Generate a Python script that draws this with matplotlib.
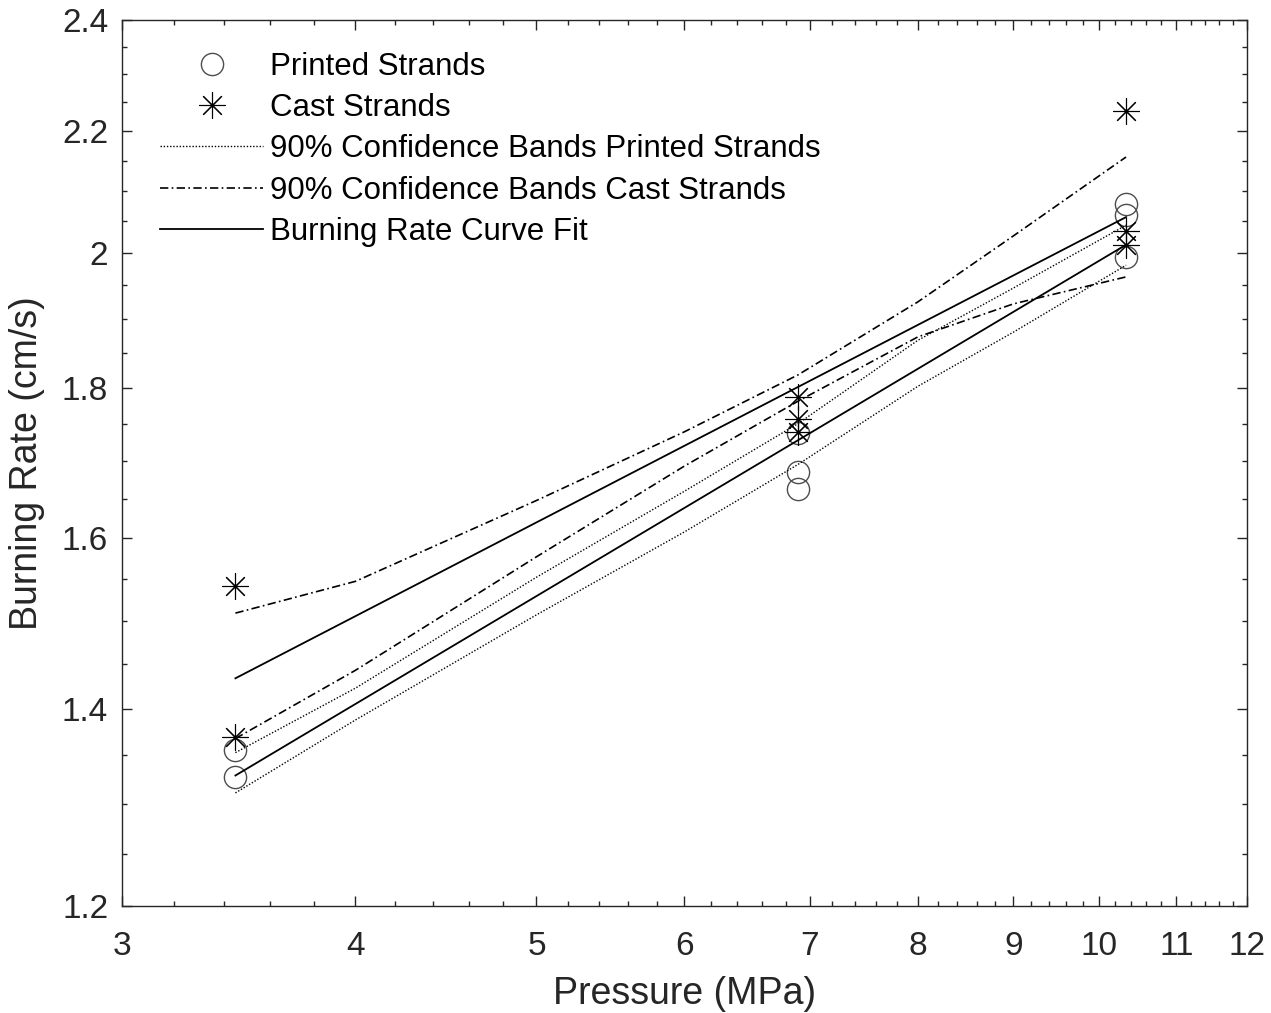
import numpy as np
import matplotlib
matplotlib.use('Agg')
import matplotlib.pyplot as plt
from matplotlib.ticker import NullFormatter, FixedLocator

plt.rcParams['font.family'] = ['Liberation Sans', 'DejaVu Sans']

# measured points (MPa, cm/s)
p_printed = [3.45, 3.45, 6.9, 6.9, 6.9, 10.34, 10.34, 10.34]
r_printed = [1.327, 1.356, 1.737, 1.685, 1.663, 2.078, 2.060, 1.994]

p_cast = [3.45, 3.45, 6.9, 6.9, 6.9, 10.34, 10.34, 10.34]
r_cast = [1.541, 1.370, 1.787, 1.757, 1.739, 2.235, 2.035, 2.013]

# power-law fits (straight on log-log, end points)
p_fit = [3.45, 10.34]
r_fit_printed = [1.329, 2.013]
r_fit_cast = [1.434, 2.057]

# 90% confidence bands
p_band = [3.45, 4, 5, 6, 6.9, 8, 9, 10.34]
printed_upper = [1.353, 1.423, 1.552, 1.660, 1.750, 1.868, 1.946, 2.044]
printed_lower = [1.311, 1.388, 1.507, 1.608, 1.695, 1.802, 1.880, 1.981]
cast_upper = [1.509, 1.547, 1.648, 1.739, 1.818, 1.925, 2.027, 2.156]
cast_lower = [1.368, 1.443, 1.577, 1.693, 1.781, 1.873, 1.922, 1.963]

x_major = [3, 4, 5, 6, 7, 8, 9, 10, 11, 12]
y_major = [1.2, 1.4, 1.6, 1.8, 2.0, 2.2, 2.4]
y_labels = ['1.2', '1.4', '1.6', '1.8', '2', '2.2', '2.4']

fig = plt.figure(figsize=(12.71, 10.13), dpi=100)
ax = fig.add_axes([0.096, 0.1056, 0.885, 0.8747])

txt = '#262626'
star = (8, 2, 0)

ax.plot(p_printed, r_printed, linestyle='none', marker='o', markersize=16,
        markerfacecolor='none', markeredgecolor='#4d4d4d', markeredgewidth=1.0,
        label='Printed Strands')
ax.plot(p_cast, r_cast, linestyle='none', marker=star, markersize=19,
        color='black', markeredgewidth=0.8, label='Cast Strands')

ax.plot(p_band, printed_upper, color='black', linestyle=(0, (1, 1.3)), lw=1.0,
        label='90% Confidence Bands Printed Strands')
ax.plot(p_band, printed_lower, color='black', linestyle=(0, (1, 1.3)), lw=1.0)
ax.plot(p_band, cast_upper, color='black', linestyle=(0, (5, 2, 1, 2)), lw=1.2,
        label='90% Confidence Bands Cast Strands')
ax.plot(p_band, cast_lower, color='black', linestyle=(0, (5, 2, 1, 2)), lw=1.2)
ax.plot(p_fit, r_fit_printed, color='black', lw=1.3, label='Burning Rate Curve Fit')
ax.plot(p_fit, r_fit_cast, color='black', lw=1.3)

ax.set_xscale('log')
ax.set_yscale('log')
ax.set_xlim(3, 12)
ax.set_ylim(1.2, 2.4)

ax.xaxis.set_major_locator(FixedLocator(x_major))
ax.set_xticklabels([str(v) for v in x_major])
ax.xaxis.set_minor_locator(FixedLocator(np.arange(3, 12.01, 0.2)))
ax.xaxis.set_minor_formatter(NullFormatter())
ax.yaxis.set_major_locator(FixedLocator(y_major))
ax.set_yticklabels(y_labels)
ax.yaxis.set_minor_locator(FixedLocator(np.arange(1.2, 2.401, 0.05)))
ax.yaxis.set_minor_formatter(NullFormatter())

ax.tick_params(which='both', direction='in', top=True, right=True,
               colors=txt, width=1.0)
ax.tick_params(which='major', length=7, labelsize=24)
ax.tick_params(axis='x', which='major', pad=18)
ax.tick_params(axis='y', which='major', pad=10)
ax.tick_params(which='minor', length=3.5)
for s in ax.spines.values():
    s.set_color(txt)
    s.set_linewidth(1.0)

ax.set_xlabel('Pressure (MPa)', fontsize=27, color=txt, labelpad=10)
ax.set_ylabel('Burning Rate (cm/s)', fontsize=27, color=txt, labelpad=12)

ax.legend(loc='upper left', bbox_to_anchor=(0.034, 0.964), frameon=False,
          fontsize=22.5, handlelength=3.3, handletextpad=0.2, labelspacing=0.36,
          borderpad=0, borderaxespad=0, numpoints=1)

fig.savefig('out.png', dpi=100)
